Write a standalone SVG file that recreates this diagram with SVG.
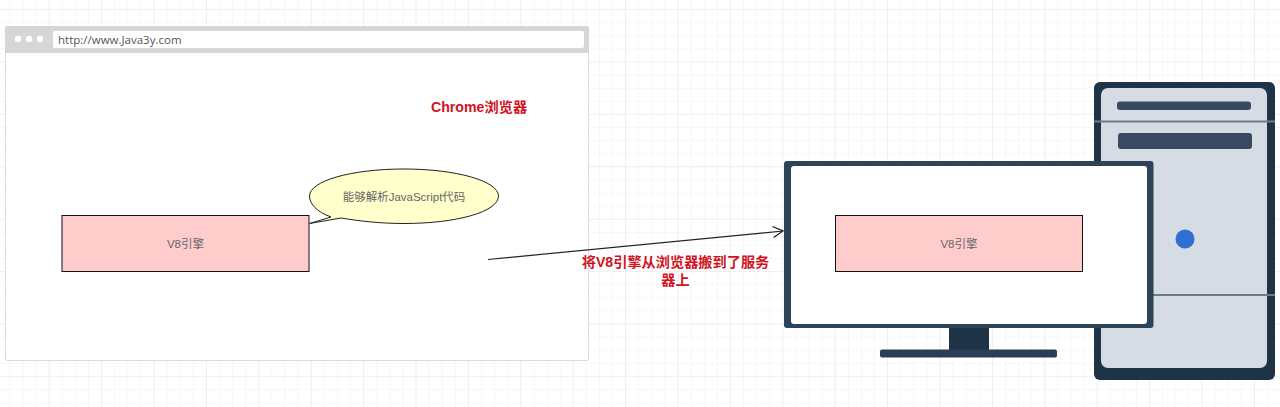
<svg xmlns="http://www.w3.org/2000/svg" width="1280" height="407" viewBox="0 0 1280 407">
<defs>
<pattern id="gm" x="-2.700" y="-3" width="13.100" height="13.100" patternUnits="userSpaceOnUse"><path d="M13.100 0V13.100M0 13.100H13.100" fill="none" stroke="#f0f0f0" stroke-width="1"/></pattern>
<pattern id="gM" x="-2.700" y="-42.400" width="52.400" height="52.400" patternUnits="userSpaceOnUse"><path d="M52.400 0V52.400M0 52.400H52.400" fill="none" stroke="#e8e8e8" stroke-width="1"/></pattern>
<marker id="arrow" markerWidth="14" markerHeight="14" refX="11" refY="6" orient="auto" markerUnits="userSpaceOnUse"><path d="M1 0.5L11 6L1 11.500" fill="none" stroke="#222" stroke-width="1.300"/></marker>
</defs>
<style>
.cn{font-family:"Liberation Sans","Noto Sans CJK SC",sans-serif}
.box{fill:#ffcccc;stroke:#111;stroke-width:1}
.lbl{font-size:11.500px;fill:#666;text-anchor:middle}
.red{font-size:14.200px;font-weight:700;fill:#d0141f;text-anchor:middle}
.navy{fill:#374a62}
.dark{fill:#1f3347}
.sep{stroke:#6f7c84;stroke-width:2}
</style>
<rect width="1280" height="407" fill="#fff"/>
<rect width="1280" height="407" fill="url(#gm)"/>
<rect width="1280" height="407" fill="url(#gM)"/>
<g id="browser">
<rect x="5.500" y="26.500" width="583" height="334" rx="2" fill="#fff" stroke="#dcdcdc" stroke-width="1"/>
<path d="M5 28a2 2 0 0 1 2-2H587a2 2 0 0 1 2 2V53H5z" fill="#d6d6d6"/>
<rect x="53" y="31" width="531" height="17" rx="2" fill="#fff"/>
<circle cx="18" cy="39" r="3.200" fill="#fff"/><circle cx="29" cy="39" r="3.200" fill="#fff"/><circle cx="40" cy="39" r="3.200" fill="#fff"/>
<text x="58" y="44" font-family="'Open Sans','Liberation Sans',sans-serif" font-size="11.500" fill="#555">http://www.Java3y.com</text>
</g>
<text class="cn red" x="479" y="112">Chrome浏览器</text>
<g id="v8-left"><rect class="box" x="62" y="215.500" width="247" height="56"/><text class="cn lbl" x="185.500" y="248">V8引擎</text></g>
<g id="callout">
<path d="M309.500 223.500L331 217C317 212 309.500 204 309.500 196C309.500 181 351 169 404 169C456 169 498.500 181 498.500 196C498.500 212 456 223.500 404 223.500C380 223.500 359 221 341 218Z" fill="#ffffcc" stroke="#222" stroke-width="1"/>
<text class="cn" x="404" y="201" font-size="11.500" fill="#666" text-anchor="middle">能够解析JavaScript代码</text>
</g>
<g id="server">
<rect x="1094" y="82" width="181" height="298" rx="6" class="dark"/>
<rect x="1101" y="88" width="166" height="280" rx="7" fill="#d6dce3"/>
<line class="sep" x1="1094" y1="121.500" x2="1275" y2="121.500"/>
<line class="sep" x1="1094" y1="295" x2="1275" y2="295"/>
<rect class="navy" x="1117" y="101.500" width="134" height="8.500" rx="3"/>
<rect class="navy" x="1118" y="133" width="134" height="16" rx="3"/>
<circle cx="1185" cy="239" r="9.500" fill="#2f6fd6"/>
</g>
<g id="monitor">
<rect x="949" y="325" width="40" height="27" class="dark"/>
<rect x="880" y="349.500" width="177" height="8" rx="2" fill="#2a3f55"/>
<rect x="784" y="161" width="369.500" height="167" rx="3" fill="#2d4358"/>
<rect x="791" y="166" width="356" height="158" rx="3" fill="#fff"/>
</g>
<g id="v8-right"><rect class="box" x="835.500" y="215.500" width="247" height="56"/><text class="cn lbl" x="959" y="248">V8引擎</text></g>
<g id="connectors"><line x1="488" y1="259.500" x2="783" y2="231" stroke="#222" stroke-width="1.200" marker-end="url(#arrow)"/></g>
<g id="move-label"><text class="cn red" x="675.500" y="267">将V8引擎从浏览器搬到了服务</text><text class="cn red" x="675.500" y="285">器上</text></g>
</svg>
